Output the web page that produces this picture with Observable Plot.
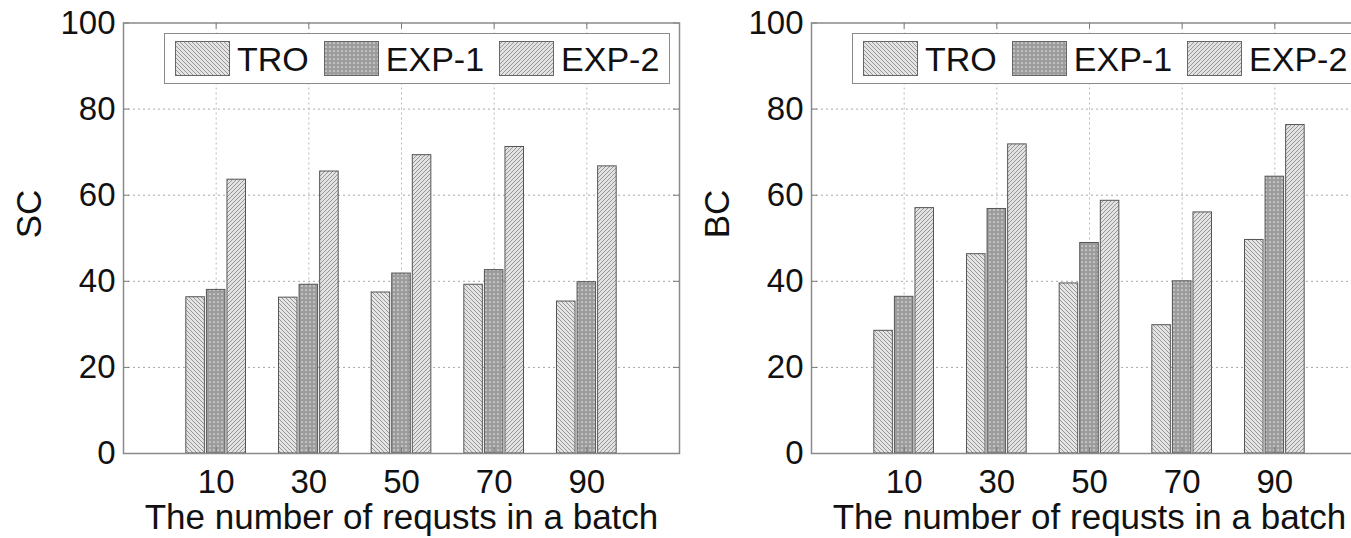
<!DOCTYPE html>
<html>
<head>
<meta charset="utf-8">
<script src="https://cdn.jsdelivr.net/npm/d3@7"></script>
<script src="https://cdn.jsdelivr.net/npm/@observablehq/plot@0.6"></script>
<style>
  html, body { margin: 0; padding: 0; background: #fff; overflow: hidden; }
  #root { position: relative; width: 1351px; height: 538px; overflow: hidden; background: #fff; }
  .panel { position: absolute; top: 0; width: 690px; height: 538px; }
  .legend {
    position: absolute; left: 164px; top: 33px; width: 506px; height: 51px;
    box-sizing: border-box; border: 1.5px solid #8a8a8a; background: #fff;
    display: flex; align-items: center; padding-left: 10px;
    font-family: "Liberation Sans", Arial, sans-serif; font-size: 34px; color: #111;
  }
  .legend svg { flex: none; }
  .legend span { margin: 0 15px 0 7px; white-space: nowrap; line-height: 1; }
</style>
</head>
<body>
<svg width="0" height="0" style="position:absolute">
  <defs>
    <pattern id="pTRO" patternUnits="userSpaceOnUse" width="4" height="4">
      <rect width="4" height="4" fill="#e4e4e4"></rect>
      <path d="M0,0 L4,4 M-1,3 L1,5 M3,-1 L5,1" stroke="#8e8e8e" stroke-width="0.9"></path>
    </pattern>
    <pattern id="pEXP1" patternUnits="userSpaceOnUse" width="4" height="4">
      <rect width="4" height="4" fill="#9c9c9c"></rect>
      <circle cx="2" cy="2" r="0.85" fill="#e6e6e6"></circle>
    </pattern>
    <pattern id="pEXP2" patternUnits="userSpaceOnUse" width="4" height="4">
      <rect width="4" height="4" fill="#e2e2e2"></rect>
      <path d="M0,4 L4,0 M-1,1 L1,-1 M3,5 L5,3" stroke="#8e8e8e" stroke-width="0.9"></path>
    </pattern>
  </defs>
</svg>
<div id="root"></div>
<script>
// ---- data ----
const batchLabels = ["10", "30", "50", "70", "90"];
const seriesNames = ["TRO", "EXP-1", "EXP-2"];
const scTRO  = [36.3, 36.2, 37.4, 39.2, 35.3];
const scEXP1 = [38.0, 39.2, 41.8, 42.6, 39.8];
const scEXP2 = [63.6, 65.5, 69.3, 71.2, 66.7];
const bcTRO  = [28.5, 46.3, 39.5, 29.8, 49.6];
const bcEXP1 = [36.4, 56.8, 48.9, 40.0, 64.3];
const bcEXP2 = [57.0, 71.8, 58.7, 56.0, 76.3];
const yTicks = [0, 20, 40, 60, 80, 100];
const xAxisTitle = "The number of requsts in a batch";

const patterns = {"TRO": "url(#pTRO)", "EXP-1": "url(#pEXP1)", "EXP-2": "url(#pEXP2)"};
const FONT = '"Liberation Sans", Arial, Helvetica, sans-serif';

function makePanel(yTitle, seriesValues) {
  const groupIdx = batchLabels.map((_, i) => i + 1);
  const rows = [];
  seriesNames.forEach((s, k) => {
    seriesValues[k].forEach((v, i) => rows.push({group: i + 1, series: s, k, value: v}));
  });
  const barW = 0.2, step = 0.222;
  const marks = [
    Plot.ruleY(yTicks.filter(t => t > 0 && t < 100), {stroke: "#a8a8a8", strokeDasharray: "2,3", strokeWidth: 1}),
    Plot.ruleX(groupIdx, {stroke: "#b8b8b8", strokeDasharray: "2,3", strokeWidth: 1}),
    ...seriesNames.map((s, k) => Plot.rectY(rows.filter(r => r.series === s), {
      x1: d => d.group + (d.k - 1) * step - barW / 2,
      x2: d => d.group + (d.k - 1) * step + barW / 2,
      y1: 0, y2: "value",
      fill: patterns[s], stroke: "#555", strokeWidth: 1
    })),
    // inward ticks
    Plot.ruleX(groupIdx, {y1: 100, y2: 98.6, stroke: "#777"}),
    Plot.ruleX(groupIdx, {y1: 0, y2: 1.4, stroke: "#777"}),
    Plot.ruleY(yTicks, {x1: 0, x2: 0.065, stroke: "#777"}),
    Plot.ruleY(yTicks, {x1: 6, x2: 5.935, stroke: "#777"}),
    Plot.frame({stroke: "#8a8a8a", strokeWidth: 1.5}),
    Plot.text([yTitle], {frameAnchor: "left", dx: -94, rotate: -90, fontSize: 35, fill: "#111"}),
    Plot.text([xAxisTitle], {frameAnchor: "bottom", dy: 51, lineAnchor: "top", fontSize: 35, fill: "#111"})
  ];
  return Plot.plot({
    width: 690, height: 538,
    marginLeft: 123, marginRight: 11, marginTop: 22.5, marginBottom: 85,
    style: {fontSize: "33px", fontFamily: FONT, color: "#111", background: "#fff", overflow: "visible"},
    x: {type: "linear", domain: [0, 6], ticks: groupIdx, tickFormat: d => batchLabels[d - 1], tickSize: 0, tickPadding: 16, label: null},
    y: {domain: [0, 100], ticks: yTicks, tickSize: 0, tickPadding: 8, label: null},
    marks
  });
}

function makeLegend() {
  const div = document.createElement("div");
  div.className = "legend";
  seriesNames.forEach(s => {
    const ns = "http://www.w3.org/2000/svg";
    const sw = document.createElementNS(ns, "svg");
    sw.setAttribute("width", 55); sw.setAttribute("height", 35);
    const r = document.createElementNS(ns, "rect");
    r.setAttribute("x", 0.5); r.setAttribute("y", 0.5);
    r.setAttribute("width", 54); r.setAttribute("height", 34);
    r.setAttribute("fill", patterns[s]); r.setAttribute("stroke", "#666");
    sw.appendChild(r);
    const t = document.createElement("span");
    t.textContent = s;
    div.appendChild(sw); div.appendChild(t);
  });
  return div;
}

const root = document.getElementById("root");
[["SC", [scTRO, scEXP1, scEXP2], 0], ["BC", [bcTRO, bcEXP1, bcEXP2], 688]].forEach(([title, vals, left]) => {
  const p = document.createElement("div");
  p.className = "panel";
  p.style.left = left + "px";
  p.appendChild(makePanel(title, vals));
  p.appendChild(makeLegend());
  root.appendChild(p);
});
</script>
</body>
</html>
